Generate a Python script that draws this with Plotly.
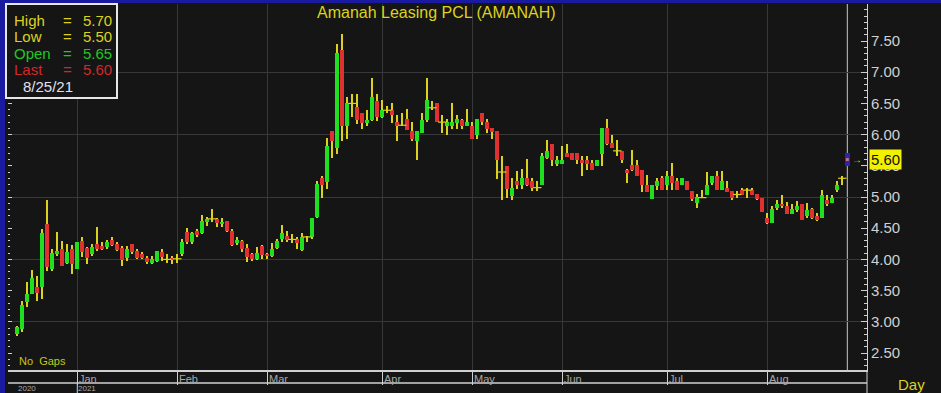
import plotly.graph_objects as go

# ---------------- data ----------------
opens = [2.80, 2.885, 3.32, 3.45, 3.56, 3.56, 4.56, 3.84, 4.08, 4.17,
         3.94, 4.16, 3.84, 4.30, 4.18, 4.08, 4.24, 4.22, 4.20, 4.31,
         4.24, 4.18, 4.02, 4.24, 4.13, 4.08, 4.02, 3.95, 3.975, 4.12,
         4.00, 4.03, 4.01, 4.08, 4.44, 4.28, 4.45, 4.42, 4.60, 4.65,
         4.65, 4.57, 4.61, 4.46, 4.27, 4.30, 4.19, 4.09, 4.01, 4.21,
         4.09, 4.06, 4.19, 4.32, 4.38, 4.32, 4.33, 4.15, 4.36, 4.36,
         4.685, 5.30, 5.24, 6.05, 5.79, 7.36, 6.14, 6.50, 6.45, 6.34,
         6.19, 6.23, 6.54, 6.29, 6.39, 6.40, 6.21, 6.15, 6.25, 6.05,
         5.90, 6.03, 6.235, 6.43, 6.51, 6.20, 6.14, 6.14, 6.19, 6.235,
         6.14, 6.14, 5.995, 6.35, 6.21, 6.11, 6.05, 5.40, 5.50, 5.02,
         5.25, 5.19, 5.31, 5.25, 5.15, 5.19, 5.63, 5.85, 5.53, 5.53,
         5.70, 5.70, 5.70, 5.60, 5.60, 5.55, 5.50, 5.69, 6.10, 5.86,
         5.74, 5.74, 5.44, 5.51, 5.51, 5.44, 5.20, 4.97, 5.18, 5.30,
         5.19, 5.34, 5.25, 5.19, 5.25, 5.10, 4.91, 4.99, 5.03, 5.23,
         5.34, 5.12, 5.14, 5.10, 5.04, 5.11, 5.11, 5.11, 5.05, 4.99,
         4.67, 4.59, 4.82, 4.89, 4.86, 4.73, 4.79, 4.88, 4.70, 4.80,
         4.70, 4.67, 4.96, 4.91, 5.11, 5.30, 5.65]
highs = [2.94, 3.33, 3.64, 3.83, 3.73, 4.48, 4.95, 4.16, 4.44, 4.30,
         4.24, 4.23, 4.28, 4.36, 4.20, 4.25, 4.52, 4.28, 4.31, 4.36,
         4.28, 4.21, 4.21, 4.24, 4.16, 4.12, 4.06, 4.05, 4.14, 4.16,
         4.08, 4.05, 4.08, 4.32, 4.50, 4.44, 4.49, 4.71, 4.68, 4.80,
         4.67, 4.66, 4.62, 4.49, 4.36, 4.31, 4.24, 4.10, 4.20, 4.23,
         4.11, 4.26, 4.32, 4.55, 4.46, 4.40, 4.36, 4.43, 4.375, 4.67,
         5.25, 5.34, 5.94, 6.05, 7.45, 7.61, 6.61, 6.645, 6.645, 6.34,
         6.40, 6.91, 6.645, 6.55, 6.46, 6.51, 6.31, 6.35, 6.41, 6.21,
         6.06, 6.35, 6.90, 6.54, 6.51, 6.31, 6.25, 6.51, 6.31, 6.245,
         6.41, 6.20, 6.245, 6.35, 6.245, 6.11, 6.05, 5.65, 5.50, 5.31,
         5.41, 5.45, 5.61, 5.31, 5.25, 5.71, 5.91, 5.85, 5.65, 5.81,
         5.85, 5.70, 5.70, 5.65, 5.65, 5.60, 5.60, 6.10, 6.245, 6.00,
         5.91, 5.74, 5.45, 5.75, 5.60, 5.44, 5.35, 5.20, 5.30, 5.34,
         5.41, 5.55, 5.30, 5.30, 5.25, 5.10, 5.05, 5.11, 5.40, 5.34,
         5.41, 5.41, 5.25, 5.10, 5.10, 5.14, 5.14, 5.14, 5.05, 4.99,
         4.74, 4.85, 4.95, 5.04, 4.92, 4.89, 4.94, 4.88, 4.90, 4.82,
         4.74, 5.11, 5.04, 5.03, 5.25, 5.34, 5.70]
lows = [2.78, 2.84, 3.24, 3.44, 3.33, 3.36, 3.82, 3.81, 4.05, 3.89,
        3.93, 3.76, 3.84, 4.04, 3.92, 4.05, 4.13, 4.15, 4.16, 4.21,
        4.13, 3.89, 3.97, 4.09, 4.00, 4.00, 3.93, 3.93, 3.96, 3.975,
        3.94, 3.93, 3.94, 4.05, 4.24, 4.24, 4.36, 4.40, 4.54, 4.60,
        4.52, 4.52, 4.44, 4.22, 4.23, 4.12, 3.96, 3.98, 3.99, 4.00,
        4.00, 4.04, 4.17, 4.28, 4.28, 4.26, 4.17, 4.14, 4.28, 4.33,
        4.67, 4.99, 5.13, 5.63, 5.69, 5.89, 5.93, 6.29, 6.17, 6.09,
        6.13, 6.22, 6.22, 6.27, 6.34, 6.19, 5.89, 6.13, 6.08, 5.90,
        5.59, 6.02, 6.20, 6.395, 6.20, 6.03, 5.99, 6.09, 6.09, 6.09,
        6.13, 5.93, 5.93, 6.155, 6.03, 5.93, 5.29, 4.95, 4.99, 4.95,
        5.13, 5.13, 5.18, 5.09, 5.09, 5.19, 5.61, 5.49, 5.49, 5.53,
        5.64, 5.59, 5.53, 5.34, 5.43, 5.43, 5.49, 5.50, 5.83, 5.79,
        5.65, 5.54, 5.23, 5.42, 5.33, 5.08, 5.08, 4.97, 5.12, 5.12,
        5.12, 5.12, 5.12, 5.19, 5.12, 4.94, 4.83, 4.99, 5.03, 5.20,
        5.12, 5.12, 5.08, 4.95, 4.99, 5.03, 4.99, 5.03, 4.95, 4.76,
        4.57, 4.59, 4.79, 4.83, 4.73, 4.73, 4.76, 4.63, 4.66, 4.64,
        4.62, 4.67, 4.86, 4.91, 5.08, 5.19, 5.50]
closes = [2.92, 3.275, 3.45, 3.71, 3.46, 4.42, 3.88, 4.10, 4.13, 3.89,
          4.12, 3.92, 4.28, 4.12, 4.02, 4.20, 4.16, 4.17, 4.28, 4.23,
          4.15, 3.99, 4.16, 4.12, 4.02, 4.02, 3.96, 4.00, 4.135, 4.04,
          4.00, 3.99, 4.01, 4.28, 4.28, 4.42, 4.39, 4.62, 4.64, 4.65,
          4.58, 4.60, 4.46, 4.23, 4.31, 4.17, 4.04, 4.00, 4.11, 4.07,
          4.05, 4.16, 4.29, 4.42, 4.31, 4.32, 4.27, 4.36, 4.36, 4.67,
          5.21, 5.20, 5.81, 5.89, 7.30, 6.14, 6.50, 6.50, 6.23, 6.19,
          6.24, 6.61, 6.29, 6.40, 6.39, 6.32, 6.14, 6.15, 6.08, 5.93,
          6.05, 6.24, 6.555, 6.43, 6.20, 6.20, 6.21, 6.21, 6.245, 6.14,
          6.21, 5.93, 6.245, 6.20, 6.09, 6.04, 5.59, 5.40, 5.13, 5.15,
          5.19, 5.31, 5.19, 5.14, 5.15, 5.65, 5.74, 5.59, 5.60, 5.60,
          5.64, 5.59, 5.59, 5.54, 5.53, 5.43, 5.60, 6.10, 5.85, 5.79,
          5.74, 5.60, 5.39, 5.43, 5.34, 5.19, 5.08, 5.20, 5.25, 5.12,
          5.34, 5.23, 5.12, 5.30, 5.12, 4.97, 5.00, 4.99, 5.20, 5.34,
          5.12, 5.25, 5.08, 4.98, 5.04, 5.03, 5.11, 5.03, 4.97, 4.76,
          4.59, 4.80, 4.89, 4.85, 4.73, 4.80, 4.86, 4.63, 4.79, 4.66,
          4.63, 5.04, 4.88, 4.99, 5.20, 5.30, 5.60]

month_labels = ["Jan", "Feb", "Mar", "Apr", "May", "Jun", "Jul", "Aug"]
month_start_idx = [12, 32, 50, 73, 91, 109, 130, 150]
year_labels = ["2020", "2021"]
year_start_idx = [0, 12]
price_ticks = [2.5, 3.0, 3.5, 4.0, 4.5, 5.0, 5.5, 6.0, 6.5, 7.0, 7.5]
grid_levels = [3.0, 4.0, 5.0, 6.0, 7.0]
title_text = "Amanah Leasing PCL (AMANAH)"
last_date = "8/25/21"

# ---------------- styling ----------------
BG = "#151515"
GRID = "#383838"
AXC = "#d0d0d0"
YEL = "#dcd21e"
GREEN = "#1ee01e"
RED = "#e03030"
FONT = "Liberation Sans, Arial, sans-serif"

W, H = 941, 393
ML, MR, MT, MB = 8, 74, 4, 23
PW, PH = W - ML - MR, H - MT - MB


def px_x(px):
    return (px - ML) / PW


def px_y(py):
    return (H - MB - py) / PH


n = len(opens)
idx = list(range(n))
# value axis: 2.50 sits at pixel row 353, 62.4 px per unit
YR = [2.5 - ((H - MB) - 353) / 62.4, 2.5 + (353 - MT) / 62.4]
# bar axis: bar 0 at pixel column 17.3, 5 px per bar
XR = [(ML - 17.3) / 5.0, (ML + PW - 17.3) / 5.0]

body_base = [min(o, c) for o, c in zip(opens, closes)]
body_h = [abs(c - o) for o, c in zip(opens, closes)]
body_col = [GREEN if c > o else (RED if c < o else YEL) for o, c in zip(opens, closes)]
doji_x = [i for i, o, c in zip(idx, opens, closes) if o == c]
doji_y = [o for o, c in zip(opens, closes) if o == c]

fig = go.Figure()
# wicks
fig.add_trace(go.Bar(x=idx, base=lows, y=[h - l for h, l in zip(highs, lows)],
                     width=0.22, marker=dict(color=YEL, line=dict(width=0)),
                     hoverinfo="skip", showlegend=False))
# bodies
fig.add_trace(go.Bar(x=idx, base=body_base, y=body_h, width=0.78,
                     marker=dict(color=body_col, line=dict(width=0)),
                     hoverinfo="skip", showlegend=False))
# doji crosses
fig.add_trace(go.Scatter(x=doji_x, y=doji_y, mode="markers", yaxis="y3",
                         marker=dict(symbol="line-ew", size=6,
                                     line=dict(color=YEL, width=1.2)),
                         hoverinfo="skip", showlegend=False))
# highlight of last bar
fig.add_trace(go.Bar(x=[idx[-1]], base=[lows[-1]], y=[highs[-1] - lows[-1]],
                     width=1.0, yaxis="y2", marker=dict(color="#2626b0", line=dict(width=0)),
                     hoverinfo="skip", showlegend=False))
fig.add_trace(go.Scatter(x=[idx[-1]], y=[closes[-1]], mode="markers", yaxis="y2",
                         marker=dict(symbol="square", size=3, color="#d06a8a"),
                         hoverinfo="skip", showlegend=False))

shapes = []
# cursor line on the last bar
shapes.append(dict(type="line", xref="x", yref="paper", x0=idx[-1], x1=idx[-1],
                   y0=0, y1=1, line=dict(color="#c8c8c8", width=1), layer="below"))
# second line of the date band
shapes.append(dict(type="line", xref="paper", yref="paper", x0=0, x1=1,
                   y0=px_y(383), y1=px_y(383), line=dict(color=AXC, width=1.5)))
# year separators
for yi in year_start_idx[1:]:
    shapes.append(dict(type="line", xref="x", yref="paper", x0=yi, x1=yi,
                       y0=px_y(383), y1=px_y(H), line=dict(color=AXC, width=1)))
# right axis line extension
shapes.append(dict(type="line", xref="paper", yref="paper", x0=1, x1=1,
                   y0=px_y(H), y1=0, line=dict(color=AXC, width=1)))
# blue window borders
shapes.append(dict(type="rect", xref="paper", yref="paper", x0=px_x(0), x1=px_x(W),
                   y0=px_y(3), y1=px_y(0), fillcolor="#1a1aa0", line=dict(width=0)))
shapes.append(dict(type="rect", xref="paper", yref="paper", x0=px_x(0), x1=px_x(5),
                   y0=px_y(H), y1=px_y(0), fillcolor="#1a1aa0", line=dict(width=0)))
# info box
shapes.append(dict(type="rect", xref="paper", yref="paper", x0=px_x(6), x1=px_x(117),
                   y0=px_y(98), y1=px_y(4), fillcolor=BG,
                   line=dict(color="#e6e6e6", width=2), layer="above"))

ann = []
ann.append(dict(text=title_text, xref="paper", yref="paper", x=px_x(436), y=px_y(12),
                xanchor="center", yanchor="middle", showarrow=False,
                font=dict(family=FONT, size=16, color=YEL)))
rows = [("High", highs[-1], YEL), ("Low", lows[-1], YEL),
        ("Open", opens[-1], "#22c822"), ("Last", closes[-1], "#d22828")]
row_y = [20, 37, 53, 70]
for (lab, val, col), ry in zip(rows, row_y):
    ann.append(dict(text=lab, xref="paper", yref="paper", x=px_x(12), y=px_y(ry),
                    xanchor="left", yanchor="middle", showarrow=False,
                    font=dict(family=FONT, size=15, color=col)))
    ann.append(dict(text="=", xref="paper", yref="paper", x=px_x(67), y=px_y(ry),
                    xanchor="center", yanchor="middle", showarrow=False,
                    font=dict(family=FONT, size=15, color=col)))
    ann.append(dict(text=f"{val:.2f}", xref="paper", yref="paper", x=px_x(81), y=px_y(ry),
                    xanchor="left", yanchor="middle", showarrow=False,
                    font=dict(family=FONT, size=15, color=col)))
ann.append(dict(text=last_date, xref="paper", yref="paper", x=px_x(21), y=px_y(86),
                xanchor="left", yanchor="middle", showarrow=False,
                font=dict(family=FONT, size=15, color="#e0e0f0")))
# month labels
for lab, mi in zip(month_labels, month_start_idx):
    ann.append(dict(text=lab, xref="x", yref="paper", x=mi, y=px_y(370.5),
                    xanchor="left", yanchor="top", showarrow=False,
                    font=dict(family=FONT, size=11, color="#a8a8a8")))
for lab, yi in zip(year_labels, year_start_idx):
    ann.append(dict(text=lab, xref="x", yref="paper", x=yi, y=px_y(383),
                    xanchor="left", yanchor="top", showarrow=False, borderpad=0,
                    font=dict(family=FONT, size=8, color="#a8a8a8")))
ann.append(dict(text="No  Gaps", xref="paper", yref="paper", x=px_x(17), y=px_y(361),
                xanchor="left", yanchor="middle", showarrow=False,
                font=dict(family=FONT, size=11, color="#c8c814")))
ann.append(dict(text="Day", xref="paper", yref="paper", x=px_x(911), y=px_y(384),
                xanchor="center", yanchor="middle", showarrow=False,
                font=dict(family=FONT, size=15, color=YEL)))
# last-price marker
ann.append(dict(text="→", xref="paper", yref="y", x=px_x(857), y=closes[-1],
                xanchor="center", yanchor="middle", showarrow=False,
                font=dict(family=FONT, size=10, color=YEL)))
ann.append(dict(text=f"{closes[-1]:.2f}", xref="paper", yref="y", x=px_x(869), y=closes[-1],
                xanchor="left", yanchor="middle", showarrow=False, bgcolor="#f0f000",
                borderpad=1, font=dict(family=FONT, size=15, color="#141400")))

fig.update_layout(
    width=W, height=H,
    margin=dict(l=ML, r=MR, t=MT, b=MB, pad=0),
    paper_bgcolor=BG, plot_bgcolor=BG,
    barmode="overlay", bargap=0, showlegend=False,
    xaxis=dict(range=XR, tickmode="array", tickvals=month_start_idx, showticklabels=False,
               showgrid=True, gridcolor=GRID, gridwidth=1, ticks="outside", ticklen=13,
               tickcolor=AXC, tickwidth=1, showline=True, linecolor=AXC, linewidth=1.5,
               zeroline=False, fixedrange=True),
    yaxis=dict(range=YR, tickmode="array", tickvals=grid_levels, showticklabels=False,
               showgrid=True, gridcolor=GRID, gridwidth=1, ticks="", zeroline=False,
               showline=False, fixedrange=True),
    yaxis2=dict(range=YR, overlaying="y", side="right", tickmode="array",
                tickvals=price_ticks, ticktext=[f"{v:.2f}" for v in price_ticks],
                ticks="inside", ticklen=6, tickcolor=AXC, tickwidth=1,
                minor=dict(dtick=0.1, tick0=2.5, ticks="inside", ticklen=3, tickcolor=AXC,
                           showgrid=False),
                showgrid=False, showline=True, linecolor=AXC, linewidth=1, zeroline=False,
                tickfont=dict(family=FONT, size=15, color=AXC), fixedrange=True),
    yaxis3=dict(range=YR, overlaying="y", side="left", tickmode="array",
                tickvals=price_ticks, showticklabels=False,
                ticks="inside", ticklen=4, tickcolor=AXC, tickwidth=1,
                minor=dict(dtick=0.1, tick0=2.5, ticks="inside", ticklen=2, tickcolor=AXC,
                           showgrid=False),
                showgrid=False, showline=False, zeroline=False, fixedrange=True),
    shapes=shapes, annotations=ann,
)

fig.write_html("out.html")
